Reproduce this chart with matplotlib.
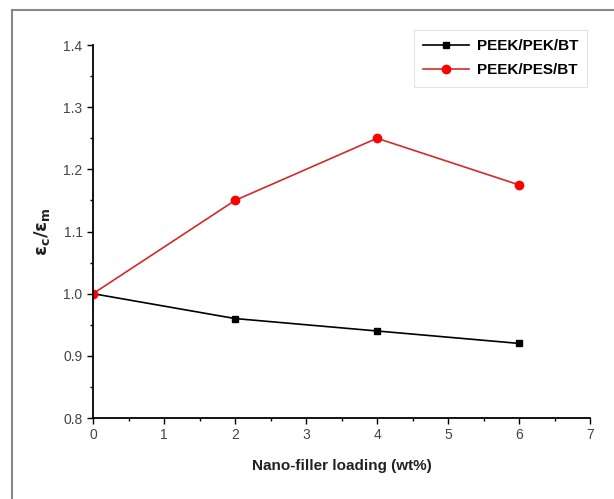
import numpy as np
import matplotlib
matplotlib.use('Agg')
import matplotlib.pyplot as plt
from matplotlib.lines import Line2D
from matplotlib.ticker import MultipleLocator

plt.rcParams['font.family'] = ['Liberation Sans', 'DejaVu Sans']

loading = [0, 2, 4, 6]
peek_pek_bt = [1.0, 0.96, 0.94, 0.92]
peek_pes_bt = [1.0, 1.15, 1.25, 1.175]

fig = plt.figure(figsize=(6.14, 4.99), dpi=100)
ax = fig.add_axes([0.1515, 0.1623, 0.8095, 0.7475])

ax.plot(loading, peek_pek_bt, color='black', marker='s', markersize=5,
        linewidth=1.2, label='PEEK/PEK/BT')
ax.plot(loading, peek_pes_bt, color='#d42a2a', marker='o', markersize=6,
        markerfacecolor='red', markeredgecolor='red',
        linewidth=1.2, label='PEEK/PES/BT')

ax.set_xlim(0, 7)
ax.set_ylim(0.8, 1.4)
ax.xaxis.set_major_locator(MultipleLocator(1))
ax.xaxis.set_minor_locator(MultipleLocator(0.5))
ax.yaxis.set_major_locator(MultipleLocator(0.1))
ax.yaxis.set_minor_locator(MultipleLocator(0.05))
ax.yaxis.set_major_formatter(matplotlib.ticker.FormatStrFormatter('%.1f'))

for s in ['top', 'right']:
    ax.spines[s].set_visible(False)
for s in ['left', 'bottom']:
    ax.spines[s].set_linewidth(1.3)

ax.tick_params(which='major', direction='out', length=4, width=1,
               labelsize=10, labelcolor='#444444')
ax.tick_params(which='minor', direction='out', length=2.5, width=1)

ax.set_xlabel('Nano-filler loading (wt%)', fontsize=11, fontweight='bold',
              labelpad=12, color='#222222')
ax.set_ylabel(r'$\mathbf{\varepsilon_c/\varepsilon_m}$', fontsize=13,
              labelpad=8, color='#222222')

leg = ax.legend(loc='upper right', bbox_to_anchor=(1.01, 1.06),
                prop={'weight': 'bold', 'size': 11}, frameon=True,
                fancybox=False, handlelength=3.0, handletextpad=0.5,
                borderpad=0.6, labelspacing=0.65)
leg.get_frame().set_edgecolor('#dddddd')
leg.get_frame().set_linewidth(0.8)

# outer frame of the figure image
fig.add_artist(Line2D([12 / 614, 12 / 614], [0, 1 - 10 / 499],
                      transform=fig.transFigure, color='#888888', linewidth=1.5))
fig.add_artist(Line2D([12 / 614, 1.0], [1 - 10 / 499, 1 - 10 / 499],
                      transform=fig.transFigure, color='#888888', linewidth=1.5))

fig.savefig('out.png', dpi=100)
